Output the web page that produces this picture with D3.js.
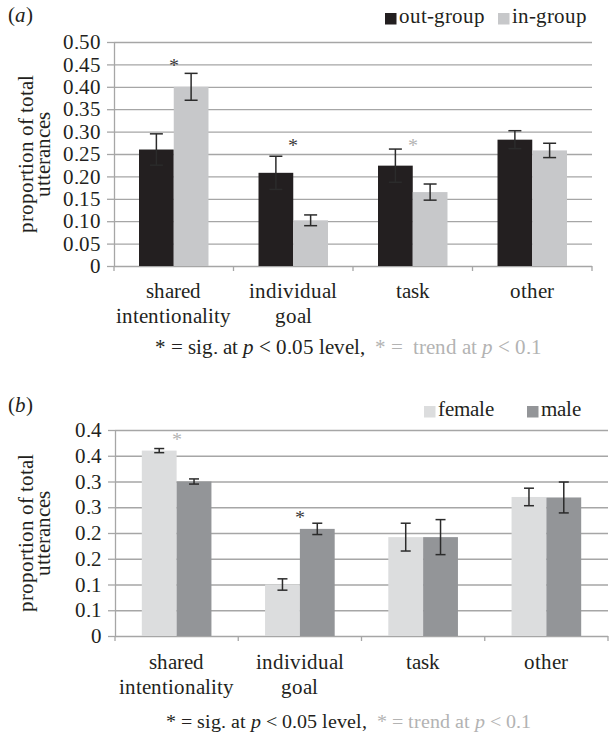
<!DOCTYPE html>
<html>
<head>
<meta charset="utf-8">
<script src="https://cdn.jsdelivr.net/npm/d3@7"></script>
<style>
  @font-face { font-family: "RefSerif"; font-style: normal; font-weight: 400;
    src: local("Liberation Serif"), local("LiberationSerif"), local("Liberation Serif Regular"); }
  @font-face { font-family: "RefSerif"; font-style: italic; font-weight: 400;
    src: local("Liberation Serif Italic"), local("LiberationSerif-Italic"); }
  body { margin: 0; background: #fff; }
  svg { display: block; }
</style>
</head>
<body>
<div id="chart"></div>
<script>
// categories and label lines
const categories = ["shared intentionality", "individual goal", "task", "other"];
const categoryLines = [["shared", "intentionality"], ["individual", "goal"], ["task"], ["other"]];

// panel (a): out-group vs in-group
const seriesA = ["out-group", "in-group"];
const outGroup = [0.260, 0.208, 0.224, 0.282];
const outGroupErr = [0.035, 0.037, 0.037, 0.020];
const inGroup = [0.400, 0.102, 0.165, 0.258];
const inGroupErr = [0.030, 0.012, 0.018, 0.016];
const ticksA = [0, 0.05, 0.10, 0.15, 0.20, 0.25, 0.30, 0.35, 0.40, 0.45, 0.50];
const tickLabelsA = ["0", "0.05", "0.10", "0.15", "0.20", "0.25", "0.30", "0.35", "0.40", "0.45", "0.50"];
const starsA = [
    { cat: "shared intentionality", y: 0.457, kind: "sig" },
    { cat: "individual goal", y: 0.278, kind: "sig" },
    { cat: "task", y: 0.278, kind: "trend" }
];

// panel (b): female vs male
const seriesB = ["female", "male"];
const female = [0.360, 0.100, 0.192, 0.270];
const femaleErr = [0.004, 0.011, 0.027, 0.017];
const male = [0.300, 0.208, 0.192, 0.269];
const maleErr = [0.005, 0.011, 0.034, 0.030];
const ticksB = [0, 0.05, 0.10, 0.15, 0.20, 0.25, 0.30, 0.35, 0.40];
const tickLabelsB = ["0", "0.1", "0.1", "0.2", "0.2", "0.3", "0.3", "0.4", "0.4"];
const starsB = [
    { cat: "shared intentionality", y: 0.390, kind: "trend" },
    { cat: "individual goal", y: 0.238, kind: "sig" }
];

const FONT = "RefSerif, 'Liberation Serif', serif";
const GRID = "#a6a6a6";
const ERR = "#2b2b2b";
const TREND = "#b3b3b3";
const INK = "#231f20";
const NBSP = "\u00a0";

const svg = d3.select("#chart").append("svg")
    .attr("width", 609)
    .attr("height", 742)
    .style("font-family", FONT);

function drawPanel(opt) {
    const g = svg.append("g");
    const x0 = d3.scaleBand().domain(categories).range([opt.left, opt.right]).padding(0);
    const x1 = d3.scaleBand().domain(opt.series).range([0, x0.bandwidth()])
        .paddingInner(0).paddingOuter(opt.barPad);
    const y = d3.scaleLinear().domain([0, opt.max]).range([opt.bottom, opt.top]);

    // gridlines
    g.append("g")
        .attr("transform", `translate(${opt.left},0)`)
        .call(d3.axisLeft(y).tickValues(opt.ticks).tickSize(-(opt.right - opt.left)).tickFormat(""))
        .call(s => s.select(".domain").remove())
        .call(s => s.selectAll("line").attr("stroke", GRID).attr("stroke-width", 1.3));

    // y axis
    g.append("g")
        .attr("transform", `translate(${opt.left},0)`)
        .call(d3.axisLeft(y).tickValues(opt.ticks).tickSize(7).tickSizeOuter(0).tickPadding(6)
            .tickFormat((d, i) => opt.tickLabels[i]))
        .attr("font-family", null)
        .attr("font-size", 21)
        .call(s => s.select(".domain").attr("stroke", GRID).attr("stroke-width", 1.3))
        .call(s => s.selectAll("line").attr("stroke", GRID).attr("stroke-width", 1.3))
        .call(s => s.selectAll("text").attr("fill", INK));

    // x axis category ticks
    const edges = categories.map(c => x0(c)).concat([opt.right]);
    g.append("g").selectAll("line").data(edges).join("line")
        .attr("x1", d => d).attr("x2", d => d)
        .attr("y1", opt.bottom).attr("y2", opt.bottom + 5)
        .attr("stroke", GRID).attr("stroke-width", 1.3);

    // bars
    const rows = categories.map((c, i) => opt.series.map((s, j) => ({
        cat: c, s, v: opt.values[j][i], e: opt.errors[j][i]
    })));
    const groups = g.append("g").selectAll("g").data(rows).join("g")
        .attr("transform", d => `translate(${x0(d[0].cat)},0)`);
    groups.selectAll("rect").data(d => d).join("rect")
        .attr("x", d => x1(d.s))
        .attr("y", d => y(d.v))
        .attr("width", x1.bandwidth())
        .attr("height", d => y(0) - y(d.v))
        .attr("fill", d => opt.colors[opt.series.indexOf(d.s)]);

    // error bars
    const cap = opt.cap / 2;
    const cx = d => x1(d.s) + x1.bandwidth() / 2;
    const eb = groups.selectAll("g.err").data(d => d).join("g").attr("class", "err")
        .attr("stroke", ERR).attr("stroke-width", 1.5).attr("fill", "none");
    eb.append("line")
        .attr("x1", cx).attr("x2", cx)
        .attr("y1", d => y(d.v + d.e)).attr("y2", d => y(d.v - d.e));
    eb.append("line")
        .attr("x1", d => cx(d) - cap).attr("x2", d => cx(d) + cap)
        .attr("y1", d => y(d.v + d.e)).attr("y2", d => y(d.v + d.e));
    eb.append("line")
        .attr("x1", d => cx(d) - cap).attr("x2", d => cx(d) + cap)
        .attr("y1", d => y(d.v - d.e)).attr("y2", d => y(d.v - d.e));

    // significance stars
    g.append("g").selectAll("text").data(opt.stars).join("text")
        .attr("x", d => x0(d.cat) + x0.bandwidth() / 2)
        .attr("y", d => y(d.y) + 11)
        .attr("text-anchor", "middle")
        .attr("font-size", 20)
        .attr("fill", d => d.kind === "trend" ? TREND : "#3a3a3a")
        .text("*");

    // category labels
    const cl = g.append("g").selectAll("text").data(categories).join("text")
        .attr("text-anchor", "middle")
        .attr("font-size", 21)
        .attr("y", opt.catY);
    cl.selectAll("tspan").data((d, i) => categoryLines[i]).join("tspan")
        .attr("x", function () { const c = d3.select(this.parentNode).datum(); return x0(c) + x0.bandwidth() / 2; })
        .attr("dy", (d, i) => i === 0 ? 0 : 25)
        .text(d => d);

    // y title
    const yt = g.append("text")
        .attr("transform", `translate(${opt.titleX},${(opt.top + opt.bottom) / 2}) rotate(-90)`)
        .attr("text-anchor", "middle")
        .attr("font-size", 21);
    yt.append("tspan").attr("x", 0).attr("dy", 0).text("proportion of total");
    yt.append("tspan").attr("x", 0).attr("dy", 17).text("utterances");

    // panel letter
    const pl = g.append("text").attr("x", 8).attr("y", opt.letterY).attr("font-size", 21);
    pl.append("tspan").text("(");
    pl.append("tspan").attr("font-style", "italic").text(opt.letter);
    pl.append("tspan").text(")");

    // legend
    const lg = g.append("g").selectAll("g").data(opt.series).join("g")
        .attr("transform", (d, i) => `translate(${opt.legendX[i]},${opt.legendY})`);
    lg.append("rect").attr("x", 0).attr("y", -10).attr("width", 11.5).attr("height", 11.5)
        .attr("fill", (d, i) => opt.colors[i]);
    lg.append("text").attr("x", 14).attr("y", 0).attr("font-size", 21).text(d => d);

    // footnote
    const fn = g.append("text")
        .attr("x", 348).attr("y", opt.noteY)
        .attr("text-anchor", "middle")
        .attr("font-size", opt.noteSize);
    fn.append("tspan").text("* = sig. at ");
    fn.append("tspan").attr("font-style", "italic").text("p");
    fn.append("tspan").text(" < 0.05 level," + NBSP + NBSP);
    fn.append("tspan").attr("fill", TREND).text(opt.trendText);
    fn.append("tspan").attr("fill", TREND).attr("font-style", "italic").text("p");
    fn.append("tspan").attr("fill", TREND).text(" < 0.1");
}

drawPanel({
    series: seriesA, values: [outGroup, inGroup], errors: [outGroupErr, inGroupErr],
    colors: ["#231f20", "#c7c8ca"],
    ticks: ticksA, tickLabels: tickLabelsA, max: 0.5, stars: starsA,
    left: 114, right: 592, top: 42, bottom: 266, barPad: 0.72, cap: 13,
    catY: 298, noteY: 354, noteSize: 21, trendText: "* =" + NBSP + NBSP + "trend at ",
    titleX: 33, letter: "a", letterY: 22,
    legendX: [385, 498], legendY: 23
});

drawPanel({
    series: seriesB, values: [female, male], errors: [femaleErr, maleErr],
    colors: ["#dcddde", "#939598"],
    ticks: ticksB, tickLabels: tickLabelsB, max: 0.4, stars: starsB,
    left: 115, right: 608, top: 430, bottom: 636, barPad: 0.77, cap: 10,
    catY: 669, noteY: 728, noteSize: 20, trendText: "* = trend at ",
    titleX: 33, letter: "b", letterY: 412,
    legendX: [424, 527], legendY: 416
});

svg.selectAll("text").filter(function () { return !this.getAttribute("fill"); }).attr("fill", INK);
</script>
</body>
</html>
